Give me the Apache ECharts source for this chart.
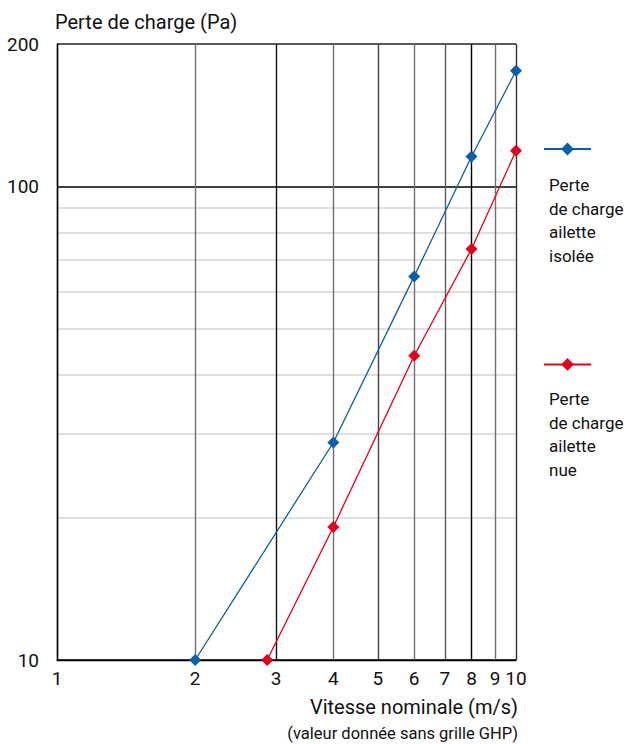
<!DOCTYPE html>
<html><head><meta charset="utf-8">
<script src="https://cdn.jsdelivr.net/npm/echarts@6/dist/echarts.min.js"></script>
<style>html,body{margin:0;padding:0;background:#fff}#c{width:628px;height:744px}</style>
</head><body><div id="c"></div>
<script>
const vitesseTicks = [1, 2, 3, 4, 5, 6, 7, 8, 9, 10];
const perteGridValues = [10, 20, 30, 40, 50, 60, 70, 80, 90, 100, 200];
const perteLabels = [10, 100, 200];
const isoleeX = [2, 4, 6, 8, 10];
const isoleeY = [10, 28.8, 64.6, 115.7, 175.6];
const nueX = [2.87, 4, 6, 8, 10];
const nueY = [10, 19.1, 43.9, 73.8, 119];
const seriesNames = ['Perte de charge ailette isolée', 'Perte de charge ailette nue'];
const legendLines = [['Perte', 'de charge', 'ailette', 'isolée'], ['Perte', 'de charge', 'ailette', 'nue']];
const yAxisName = 'Perte de charge (Pa)';
const xAxisName = 'Vitesse nominale (m/s)';
const xAxisSub = '(valeur donnée sans grille GHP)';

const FONT = 'Roboto';
const BLUE = '#0b5ea8';
const RED = '#e3001b';
const xGridColors = ['#000', '#707070', '#111', '#707070', '#444', '#707070', '#5a5a5a', '#000', '#707070', '#333'];
const yGridColors = ['#000', '#d4d4d4', '#d4d4d4', '#d4d4d4', '#d4d4d4', '#d4d4d4', '#d4d4d4', '#d4d4d4', '#d4d4d4', '#000', '#222'];

const pairs = (xs, ys) => xs.map((x, i) => [x, ys[i]]);

const chart = echarts.init(document.getElementById('c'), null, { renderer: 'svg' });

function legendText(lines, top) {
  return {
    type: 'text',
    left: 549,
    top: top,
    style: {
      text: lines.join('\n'),
      fontFamily: FONT,
      fontSize: 17,
      lineHeight: 23.7,
      fill: '#111'
    }
  };
}

chart.setOption({
  animation: false,
  backgroundColor: '#fff',
  grid: { left: 57, right: 112, top: 44, bottom: 84 },
  xAxis: {
    type: 'log',
    logBase: 10,
    min: 1,
    max: 10,
    axisLine: { lineStyle: { color: '#000', width: 1.3 } },
    axisTick: { show: false, customValues: vitesseTicks },
    axisLabel: { customValues: vitesseTicks, fontFamily: FONT, fontSize: 19, color: '#111', margin: 9 },
    splitLine: { show: true, lineStyle: { color: xGridColors, width: 1.4 } },
    minorTick: { show: false },
    minorSplitLine: { show: false }
  },
  yAxis: {
    type: 'log',
    logBase: 10,
    min: 10,
    max: 200,
    name: yAxisName,
    nameLocation: 'end',
    nameGap: 22,
    nameTextStyle: { fontFamily: FONT, fontSize: 20, color: '#111', align: 'left', verticalAlign: 'middle', padding: [0, 0, 0, -2] },
    axisLine: { show: true, lineStyle: { color: '#000', width: 1.3 } },
    axisTick: { show: false, customValues: perteGridValues },
    axisLabel: { customValues: perteLabels, fontFamily: FONT, fontSize: 19, color: '#111', margin: 18 },
    splitLine: { show: true, lineStyle: { color: yGridColors, width: 1.5 } },
    minorTick: { show: false },
    minorSplitLine: { show: false }
  },
  legend: {
    orient: 'vertical',
    left: 543,
    top: 141,
    padding: 0,
    itemWidth: 47,
    itemHeight: 16,
    itemGap: 201,
    data: seriesNames,
    formatter: () => '',
    textStyle: { fontSize: 1 }
  },
  graphic: [
    legendText(legendLines[0], 173),
    legendText(legendLines[1], 387),
    {
      type: 'text', right: 110, top: 697,
      style: { text: xAxisName, fontFamily: FONT, fontSize: 20, fill: '#111' }
    },
    {
      type: 'text', right: 110, top: 725,
      style: { text: xAxisSub, fontFamily: FONT, fontSize: 16.5, fill: '#111' }
    }
  ],
  series: [
    {
      name: seriesNames[0], type: 'line', data: pairs(isoleeX, isoleeY),
      symbol: 'diamond', symbolSize: 12, color: BLUE,
      lineStyle: { color: BLUE, width: 1.3 }, itemStyle: { color: BLUE }, z: 5
    },
    {
      name: seriesNames[1], type: 'line', data: pairs(nueX, nueY),
      symbol: 'diamond', symbolSize: 12, color: RED,
      lineStyle: { color: RED, width: 1.3 }, itemStyle: { color: RED }, z: 5
    }
  ]
});
</script></body></html>
